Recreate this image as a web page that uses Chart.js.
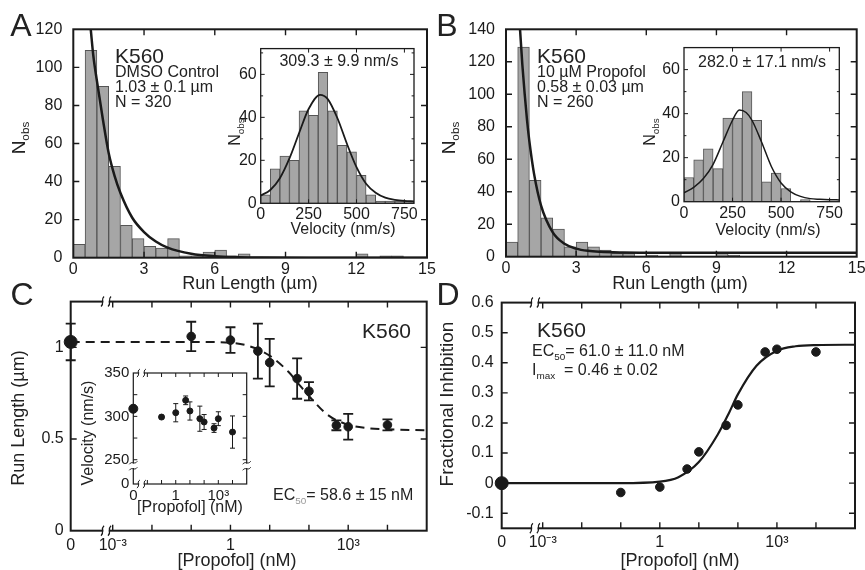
<!DOCTYPE html>
<html><head><meta charset="utf-8">
<script src="https://cdn.jsdelivr.net/npm/chart.js@4.4.1/dist/chart.umd.min.js"></script>
<style>
html,body{margin:0;padding:0;background:#fff}
body{position:relative;width:865px;height:570px;overflow:hidden;font-family:"Liberation Sans",Arial,sans-serif;color:#222}
canvas{position:absolute}
.t{position:absolute;white-space:nowrap;line-height:1;transform:translate(-50%,-50%)}
.l{position:absolute;white-space:nowrap;line-height:1;transform:translate(0,-50%)}
.r{transform:translate(-50%,-50%) rotate(-90deg)}
.s{font-size:0.62em;position:relative;top:0.38em}
.g{color:#999}
</style></head><body>
<canvas id="cA"></canvas>
<canvas id="cB"></canvas>
<canvas id="cC"></canvas>
<canvas id="cD"></canvas>
<canvas id="cAi"></canvas>
<canvas id="cBi"></canvas>
<canvas id="cCi"></canvas>

<div class="t" style="left:21px;top:25px;font-size:32px">A</div>
<div class="t" style="left:447px;top:25px;font-size:32px">B</div>
<div class="t" style="left:22px;top:294px;font-size:32px">C</div>
<div class="t" style="left:448px;top:294px;font-size:32px">D</div>

<div class="t" style="left:250px;top:283px;font-size:18px">Run Length (µm)</div>
<div class="t" style="left:680px;top:283px;font-size:18px">Run Length (µm)</div>
<div class="t r" style="left:18px;top:138px;font-size:19px">N<span class="s">obs</span></div>
<div class="t r" style="left:448px;top:138px;font-size:19px">N<span class="s">obs</span></div>

<div class="l" style="left:115px;top:55px;font-size:21px">K560</div>
<div class="l" style="left:115px;top:72px;font-size:16px">DMSO Control</div>
<div class="l" style="left:115px;top:87px;font-size:16px">1.03 ± 0.1 µm</div>
<div class="l" style="left:115px;top:102px;font-size:16px">N = 320</div>
<div class="l" style="left:537px;top:55px;font-size:21px">K560</div>
<div class="l" style="left:537px;top:72px;font-size:16px">10 µM Propofol</div>
<div class="l" style="left:537px;top:87px;font-size:16px">0.58 ± 0.03 µm</div>
<div class="l" style="left:537px;top:102px;font-size:16px">N = 260</div>

<div class="t r" style="left:235px;top:132px;font-size:16px">N<span class="s">obs</span></div>
<div class="t" style="left:343px;top:229px;font-size:16px">Velocity (nm/s)</div>
<div class="t" style="left:339px;top:61px;font-size:16px">309.3 ± 9.9 nm/s</div>
<div class="t r" style="left:650px;top:132px;font-size:16px">N<span class="s">obs</span></div>
<div class="t" style="left:768px;top:230px;font-size:16px">Velocity (nm/s)</div>
<div class="t" style="left:762px;top:62px;font-size:16px">282.0 ± 17.1 nm/s</div>

<div class="t r" style="left:18px;top:418px;font-size:18px">Run Length (µm)</div>
<div class="t" style="left:237px;top:560px;font-size:18px">[Propofol] (nM)</div>
<div class="l" style="left:362px;top:330px;font-size:21px">K560</div>
<div class="l" style="left:273px;top:495px;font-size:16px">EC<span class="s g">50</span>= 58.6 ± 15 nM</div>
<div class="t r" style="left:88px;top:433px;font-size:16px">Velocity (nm/s)</div>
<div class="t" style="left:190px;top:507px;font-size:16px">[Propofol] (nM)</div>

<div class="t r" style="left:446px;top:404px;font-size:19px">Fractional Inhibition</div>
<div class="t" style="left:680px;top:560px;font-size:18px">[Propofol] (nM)</div>
<div class="l" style="left:537px;top:329px;font-size:21px">K560</div>
<div class="l" style="left:532px;top:351px;font-size:16px">EC<span class="s">50</span>= 61.0 ± 11.0 nM</div>
<div class="l" style="left:532px;top:370px;font-size:16px">I<span class="s">max</span>&nbsp;&nbsp;= 0.46 ± 0.02</div>

<script>
// ---------------- DATA ----------------
const runLengthBins = [0.25,0.75,1.25,1.75,2.25,2.75,3.25,3.75,4.25,4.75,5.25,5.75,6.25,6.75,7.25,7.75,8.25,8.75,9.25,9.75,10.25,10.75,11.25,11.75,12.25,12.75,13.25,13.75,14.25,14.75];
const runCountsA = [7,109,90,48,17,10,6,5,10,1,1,3,4,1,2,0,0,0,0,0,0,0,0,0,2,0,1,1,0,0];
const runCountsB = [9,129,47,24,17,6,9,6,4,2,2,0,1,0,2,0,0,0,2,1,0,0,0,0,0,0,0,0,0,0];
const runFitXA = [0.74,0.85,1.0,1.25,1.5,1.75,2.0,2.5,3.0,3.5,4.0,5.0,6.0,7.0,8.0,10.0,12.0,15.0];
const runFitYA = [120,106,93,73,55,43,34,21,13.5,8.5,5.3,2.1,0.8,0.3,0.1,0,0,0];
const runFitXB = [0.6,0.7,0.8,0.9,1.0,1.2,1.5,2.0,2.5,3.0,3.5,4.0,5.0,6.0,8.0,10.0,15.0];
const runFitYB = [140,118,100,84,71,51,31.5,15,8,5,3.6,3.0,2.6,2.5,2.5,2.5,2.5];

const velocityBins = [25,75,125,175,225,275,325,375,425,475,525,575,625,675,725,775];
const velCountsA = [4,16,22,20,43,41,61,43,27,24,13,4,1,1,1,1];
const velCountsB = [11,19,24,15,38,38,50,37,9,13,6,0,1,0,0,0];
const velFitXA = [0,50,100,150,200,250,310,350,400,450,500,550,600,650,700,750,800];
const velFitYA = [3.6,6.2,11.7,20.9,32.6,43.9,50.5,48.5,39.7,27.7,16.8,9.1,4.9,2.6,1.6,1.1,0.9];
const velFitXB = [0,50,100,150,200,250,285,320,350,400,450,500,550,600,650,700,750,800];
const velFitYB = [4,6.5,10.5,17,27,37,41.7,40.5,37,27,16,8.5,4.5,2.4,1.4,1.1,0.9,0.8];

const propofolConc = [0,0.1,1,5,10,50,100,500,1000,10000];          // nM
const runLengthC = [1.03,1.06,1.04,0.98,0.917,0.83,0.761,0.575,0.567,0.577];
const runLengthErrC = [0.1,0.08,0.07,0.15,0.13,0.11,0.05,0.027,0.07,0.03];
const velocityC = [308.8,299.2,304.2,318.5,306.2,297.3,293.5,286.5,297.3,281.9];
const velocityErrC = [4,2,10.5,5,10.5,14.5,8.6,5,8,18.6];
const inhibitionD = [0,-0.031,-0.013,0.047,0.104,0.192,0.26,0.436,0.445,0.436];
const fitConc = [0,0.1,1,3,10,30,60,100,300,1000,3000,10000,100000];
const fitRunLengthC = [1.03,1.03,1.025,1.007,0.955,0.867,0.79,0.735,0.632,0.578,0.56,0.553,0.548];
const fitInhibitionD = [0,0,0.005,0.02,0.07,0.16,0.235,0.295,0.39,0.44,0.455,0.459,0.46];

const ticksRunX = [0,3,6,9,12,15];
const ticksRunYA = [0,20,40,60,80,100,120];
const ticksRunYB = [0,20,40,60,80,100,120,140];
const ticksVelX = [0,250,500,750];
const ticksVelY = [0,20,40,60];
const ticksRLY = [0,0.5,1];
const ticksInhY = [-0.1,0,0.1,0.2,0.3,0.4,0.5,0.6];

// ---------------- HELPERS ----------------
Chart.defaults.font.family = "'Liberation Sans', Arial, sans-serif";
Chart.defaults.color = '#222';
const INK = '#1a1a1a';
const ZERO_C = -4.07, ZERO_D = -4.05, ZERO_CI = -2.99, ZERO_VY = 222;
const posC = c => c === 0 ? ZERO_C : Math.log10(c);
const posD = c => c === 0 ? ZERO_D : Math.log10(c);
const posCI = c => c === 0 ? ZERO_CI : Math.log10(c);

function setup(id, left, top, w, h) {
  const c = document.getElementById(id);
  c.width = w; c.height = h;
  c.style.left = left + 'px'; c.style.top = top + 'px';
  c.style.width = w + 'px'; c.style.height = h + 'px';
  return c.getContext('2d');
}
function scale(cfg) {
  return {
    type: 'linear', min: cfg.min, max: cfg.max, offset: false,
    grid: {display: false, drawTicks: false}, border: {display: false},
    afterBuildTicks: sc => { sc.ticks = cfg.ticks.map(v => ({value: v})); },
    ticks: {font: {size: cfg.size}, color: INK, padding: cfg.pad, autoSkip: false, maxRotation: 0, minRotation: 0,
      callback: v => { const i = cfg.ticks.indexOf(v); return cfg.labels ? cfg.labels[i] : String(v); }},
    afterFit: sc => { if (cfg.axis === 'x') sc.height = cfg.fit; else sc.width = cfg.fit; }
  };
}
function breakMark(ctx, cx, cy, dir, o) {
  const gap = o.gap || 3.5, h = o.bh || 5;
  ctx.save();
  ctx.fillStyle = '#fff';
  if (dir === 'x') ctx.fillRect(cx - gap + 0.8, cy - o.lw - 0.5, 2 * gap - 1.6, 2 * o.lw + 1);
  else ctx.fillRect(cx - o.lw - 0.5, cy - gap + 0.8, 2 * o.lw + 1, 2 * gap - 1.6);
  ctx.lineWidth = o.blw || 1.3; ctx.strokeStyle = INK;
  [-gap, gap].forEach(d => {
    ctx.beginPath();
    if (dir === 'x') { const x = cx + d; ctx.moveTo(x - 1.5, cy + h); ctx.bezierCurveTo(x + 2.5, cy + h * 0.3, x - 2.5, cy - h * 0.3, x + 1.5, cy - h); }
    else { const y = cy + d; ctx.moveTo(cx - h, y + 1.5); ctx.bezierCurveTo(cx - h * 0.3, y - 2.5, cx + h * 0.3, y + 2.5, cx + h, y - 1.5); }
    ctx.stroke();
  });
  ctx.restore();
}
function drawFrame(chart, o) {
  const {ctx, chartArea: {left, top, right, bottom}} = chart;
  const xs = chart.scales.x, ys = chart.scales.y;
  ctx.save();
  ctx.strokeStyle = INK; ctx.lineWidth = o.lw;
  ctx.strokeRect(left, top, right - left, bottom - top);
  ctx.lineWidth = o.tlw || o.lw * 0.7;
  ctx.beginPath();
  const xt = (vals, len) => (vals || []).forEach(v => { const p = xs.getPixelForValue(v); ctx.moveTo(p, bottom); ctx.lineTo(p, bottom - len); ctx.moveTo(p, top); ctx.lineTo(p, top + len); });
  const yt = (vals, len) => (vals || []).forEach(v => { const p = ys.getPixelForValue(v); ctx.moveTo(left, p); ctx.lineTo(left + len, p); ctx.moveTo(right, p); ctx.lineTo(right - len, p); });
  xt(o.xt, o.len); yt(o.yt, o.len); xt(o.xm, o.len * 0.6); yt(o.ym, o.len * 0.6);
  ctx.stroke();
  (o.xb || []).forEach(v => { const p = xs.getPixelForValue(v); breakMark(ctx, p, top, 'x', o); breakMark(ctx, p, bottom, 'x', o); });
  (o.yb || []).forEach(v => { const p = ys.getPixelForValue(v); breakMark(ctx, left, p, 'y', o); breakMark(ctx, right, p, 'y', o); });
  ctx.restore();
}
const framePlugin = {
  id: 'frame',
  beforeDatasetsDraw(chart, a, o) { if (o.layer === 'before') drawFrame(chart, o); },
  afterDatasetsDraw(chart, a, o) { if (o.layer !== 'before') drawFrame(chart, o); }
};
const errPlugin = {
  id: 'errbars',
  afterDatasetsDraw(chart, a, o) {
    const ctx = chart.ctx, xs = chart.scales.x, ys = chart.scales.y;
    chart.data.datasets.forEach(ds => {
      if (!ds.errors) return;
      ctx.save(); ctx.strokeStyle = INK; ctx.lineWidth = o.lw || 1.5;
      ds.data.forEach((p, j) => {
        const e = ds.errors[j]; const x = xs.getPixelForValue(p.x);
        const y1 = ys.getPixelForValue(p.y + e), y2 = ys.getPixelForValue(p.y - e);
        const c = o.cap || 4;
        ctx.beginPath();
        ctx.moveTo(x, y1); ctx.lineTo(x, y2);
        ctx.moveTo(x - c, y1); ctx.lineTo(x + c, y1);
        ctx.moveTo(x - c, y2); ctx.lineTo(x + c, y2);
        ctx.stroke();
      });
      ctx.restore();
    });
  }
};
const base = (pad, frame, err) => ({
  responsive: false, animation: false, events: [],
  layout: {padding: pad},
  plugins: {legend: {display: false}, tooltip: {enabled: false}, frame: frame, errbars: err || {}}
});

function histChart(id, rect, bins, counts, fx, fy, xs, ys, frame, lw) {
  return new Chart(setup(id, rect[0], rect[1], rect[2], rect[3]), {
    type: 'bar',
    data: {datasets: [
      {type: 'line', data: fx.map((x, i) => ({x, y: fy[i]})), borderColor: INK, borderWidth: lw, pointRadius: 0, cubicInterpolationMode: 'monotone', order: 0},
      {type: 'bar', data: bins.map((x, i) => ({x, y: counts[i]})), backgroundColor: '#a6a6a6', borderColor: '#555', borderWidth: 1, barPercentage: 1, categoryPercentage: 1, order: 1}
    ]},
    options: Object.assign(base(rect[4], frame), {scales: {x: xs, y: ys}}),
    plugins: [framePlugin]
  });
}

// ---------------- PANEL A ----------------
histChart('cA', [0, 0, 447, 285, {top: 29.3, right: 20}], runLengthBins, runCountsA, runFitXA, runFitYA,
  scale({min: 0, max: 15, ticks: ticksRunX, size: 16, pad: 2, fit: 27.3, axis: 'x'}),
  scale({min: 0, max: 120, ticks: ticksRunYA, size: 16, pad: 11, fit: 73.3, axis: 'y'}),
  {lw: 2, tlw: 1.4, len: 6, xt: [3, 6, 9, 12], yt: [20, 40, 60, 80, 100]}, 2.5);

// ---------------- PANEL B ----------------
histChart('cB', [440, 0, 437, 285, {top: 29.3, right: 20.3}], runLengthBins, runCountsB, runFitXB, runFitYB,
  scale({min: 0, max: 15, ticks: ticksRunX, size: 16, pad: 2, fit: 28.3, axis: 'x'}),
  scale({min: 0, max: 140, ticks: ticksRunYB, size: 16, pad: 11, fit: 66, axis: 'y'}),
  {lw: 2, tlw: 1.4, len: 6, xt: [3, 6, 9, 12], yt: [20, 40, 60, 80, 100, 120]}, 2.5);

// ---------------- PANEL C ----------------
new Chart(setup('cC', 0, 285, 447, 285), {
  type: 'scatter',
  data: {datasets: [
    {data: propofolConc.map((c, i) => ({x: posC(c), y: runLengthC[i]})), errors: runLengthErrC,
     backgroundColor: INK, borderColor: INK, pointRadius: ctx => ctx.dataIndex === 0 ? 6.5 : 4.3, clip: false, order: 0},
    {data: fitConc.map((c, i) => ({x: posC(c), y: fitRunLengthC[i]})), showLine: true, borderColor: INK, borderWidth: 2,
     borderDash: [9, 6], pointRadius: 0, cubicInterpolationMode: 'monotone', order: 1}
  ]},
  options: Object.assign(base({top: 13.3, right: 20.3}, {layer: 'before', lw: 2, tlw: 1.4, len: 6, xt: [-3, -2, -1, 0, 1, 2, 3, 4], yt: [0.5, 1], xb: [-3.17]}, {lw: 1.8, cap: 5}), {
    scales: {
      x: scale({min: ZERO_C, max: 5, ticks: [ZERO_C, -3, 0, 3], labels: ['0', '10⁻³', '1', '10³'], size: 16, pad: 5, fit: 39.3, axis: 'x'}),
      y: scale({min: 0, max: 1.25, ticks: ticksRLY, size: 16, pad: 7, fit: 70.7, axis: 'y'})
    }}),
  plugins: [framePlugin, errPlugin]
});

// ---------------- PANEL D ----------------
new Chart(setup('cD', 440, 285, 435, 285), {
  type: 'scatter',
  data: {datasets: [
    {data: propofolConc.map((c, i) => ({x: posD(c), y: inhibitionD[i]})),
     backgroundColor: INK, borderColor: INK, pointRadius: ctx => ctx.dataIndex === 0 ? 6.5 : 4.3, clip: false, order: 0},
    {data: fitConc.map((c, i) => ({x: posD(c), y: fitInhibitionD[i]})), showLine: true, borderColor: INK, borderWidth: 2.2,
     pointRadius: 0, cubicInterpolationMode: 'monotone', order: 1}
  ]},
  options: Object.assign(base({top: 14.3, right: 20}, {layer: 'before', lw: 2, tlw: 1.4, len: 6, xt: [-3, -2, -1, 0, 1, 2, 3, 4], yt: [-0.1, 0, 0.1, 0.2, 0.3, 0.4, 0.5], xb: [-3.2]}), {
    scales: {
      x: scale({min: ZERO_D, max: 5, ticks: [ZERO_D, -3, 0, 3], labels: ['0', '10⁻³', '1', '10³'], size: 16, pad: 5, fit: 41.7, axis: 'x'}),
      y: scale({min: -0.15, max: 0.6, ticks: ticksInhY, size: 16, pad: 8, fit: 61.7, axis: 'y'})
    }}),
  plugins: [framePlugin]
});

// ---------------- INSETS ----------------
histChart('cAi', [225, 35, 205, 190, {top: 12.3, right: 16}], velocityBins, velCountsA, velFitXA, velFitYA,
  scale({min: 0, max: 800, ticks: ticksVelX, size: 16, pad: 2, fit: 21.7, axis: 'x'}),
  scale({min: 0, max: 72, ticks: ticksVelY, size: 16, pad: 4, fit: 35.7, axis: 'y'}),
  {lw: 1.3, tlw: 1, len: 4, xt: [250, 500, 750], yt: [20, 40, 60], ym: [10, 30, 50, 70]}, 1.8);

histChart('cBi', [648, 34, 210, 190, {top: 12, right: 18.7}], velocityBins, velCountsB, velFitXB, velFitYB,
  scale({min: 0, max: 800, ticks: ticksVelX, size: 16, pad: 2, fit: 22.3, axis: 'x'}),
  scale({min: 0, max: 70, ticks: ticksVelY, size: 16, pad: 4, fit: 36, axis: 'y'}),
  {lw: 1.3, tlw: 1, len: 4, xt: [250, 500, 750], yt: [20, 40, 60], ym: [10, 30, 50]}, 1.5);

new Chart(setup('cCi', 98, 360, 165, 150), {
  type: 'scatter',
  data: {datasets: [
    {data: propofolConc.map((c, i) => ({x: posCI(c), y: velocityC[i]})), errors: velocityErrC,
     backgroundColor: INK, borderColor: INK, pointRadius: ctx => ctx.dataIndex === 0 ? 4.5 : 3, clip: false}
  ]},
  options: Object.assign(base({top: 12.5, right: 16.3}, {layer: 'before', lw: 1.2, tlw: 1, len: 4, xt: [-2, -1, 0, 1, 2, 3, 4], yt: [250, 275, 300, 325], xb: [-2.42], yb: [243], bh: 4, gap: 3, blw: 1}, {lw: 1, cap: 2.5}), {
    scales: {
      x: scale({min: ZERO_CI, max: 5, ticks: [ZERO_CI, 0, 3], labels: ['0', '1', '10³'], size: 15, pad: 3, fit: 26, axis: 'x'}),
      y: scale({min: ZERO_VY, max: 350, ticks: [ZERO_VY, 250, 300, 350], labels: ['0', '250', '300', '350'], size: 15, pad: 4, fit: 35.3, axis: 'y'})
    }}),
  plugins: [framePlugin, errPlugin]
});
</script>
</body></html>
